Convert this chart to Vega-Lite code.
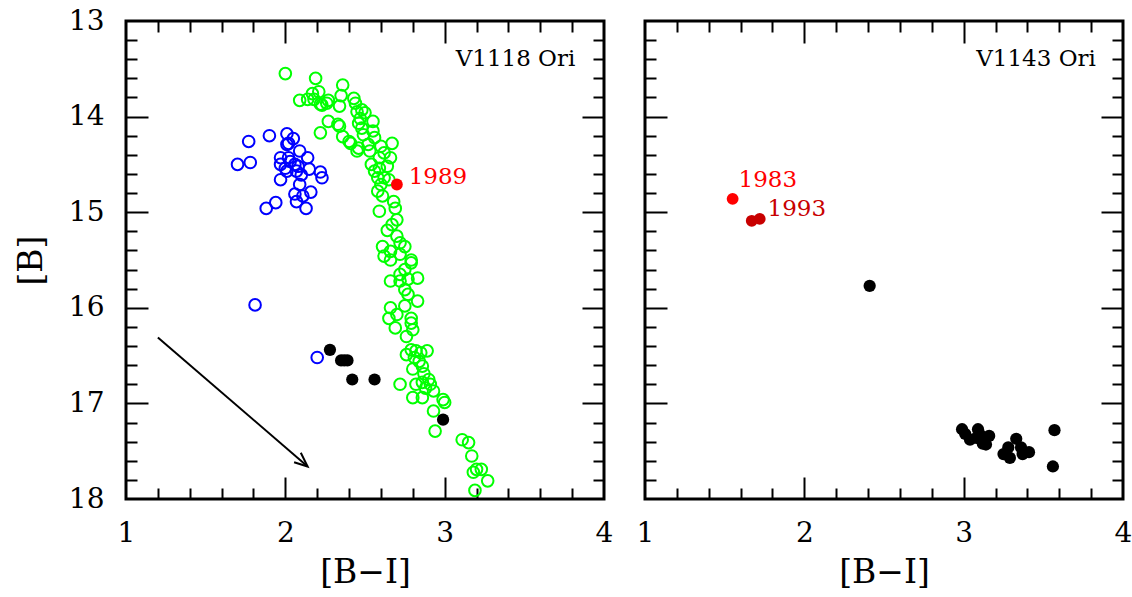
{
  "$schema": "https://vega.github.io/schema/vega-lite/v6.json",
  "background": "white",
  "padding": {"left": 13, "top": 5, "right": 0, "bottom": 0},
  "spacing": 41,
  "bounds": "flush",
  "datasets": {
    "green": [
      {"x":2.00,"y":13.55},{"x":2.19,"y":13.60},{"x":2.36,"y":13.67},{"x":2.17,"y":13.76},{"x":2.21,"y":13.74},
      {"x":2.09,"y":13.83},{"x":2.18,"y":13.82},{"x":2.22,"y":13.87},{"x":2.27,"y":13.83},{"x":2.35,"y":13.78},
      {"x":2.34,"y":13.89},{"x":2.14,"y":13.82},{"x":2.23,"y":13.88},{"x":2.26,"y":13.86},{"x":2.43,"y":13.81},
      {"x":2.44,"y":13.86},{"x":2.45,"y":13.95},{"x":2.48,"y":13.93},{"x":2.50,"y":13.96},{"x":2.47,"y":14.02},
      {"x":2.46,"y":14.07},{"x":2.55,"y":14.05},{"x":2.27,"y":14.05},{"x":2.22,"y":14.17},{"x":2.33,"y":14.08},
      {"x":2.34,"y":14.10},{"x":2.36,"y":14.21},{"x":2.40,"y":14.26},{"x":2.41,"y":14.28},{"x":2.46,"y":14.33},
      {"x":2.45,"y":14.36},{"x":2.48,"y":14.12},{"x":2.49,"y":14.19},{"x":2.55,"y":14.15},{"x":2.56,"y":14.22},
      {"x":2.52,"y":14.29},{"x":2.53,"y":14.36},{"x":2.60,"y":14.31},{"x":2.59,"y":14.43},{"x":2.62,"y":14.38},
      {"x":2.66,"y":14.43},{"x":2.67,"y":14.28},{"x":2.54,"y":14.50},{"x":2.56,"y":14.57},{"x":2.59,"y":14.54},
      {"x":2.64,"y":14.52},{"x":2.62,"y":14.64},{"x":2.65,"y":14.66},{"x":2.58,"y":14.64},{"x":2.60,"y":14.71},
      {"x":2.58,"y":14.78},{"x":2.61,"y":14.83},{"x":2.59,"y":14.99},{"x":2.68,"y":14.89},{"x":2.69,"y":14.96},
      {"x":2.70,"y":15.08},{"x":2.67,"y":15.13},{"x":2.64,"y":15.19},{"x":2.70,"y":15.25},{"x":2.72,"y":15.32},
      {"x":2.61,"y":15.36},{"x":2.66,"y":15.41},{"x":2.75,"y":15.36},{"x":2.62,"y":15.46},{"x":2.79,"y":15.50},
      {"x":2.66,"y":15.50},{"x":2.72,"y":15.44},{"x":2.79,"y":15.53},{"x":2.75,"y":15.60},{"x":2.72,"y":15.65},
      {"x":2.66,"y":15.72},{"x":2.72,"y":15.72},{"x":2.77,"y":15.70},{"x":2.83,"y":15.69},{"x":2.75,"y":15.81},
      {"x":2.77,"y":15.86},{"x":2.83,"y":15.93},{"x":2.66,"y":16.00},{"x":2.65,"y":16.11},{"x":2.70,"y":16.07},
      {"x":2.69,"y":16.21},{"x":2.75,"y":15.98},{"x":2.79,"y":16.11},{"x":2.79,"y":16.16},{"x":2.76,"y":16.30},
      {"x":2.80,"y":16.23},{"x":2.76,"y":16.49},{"x":2.79,"y":16.44},{"x":2.82,"y":16.45},{"x":2.85,"y":16.47},
      {"x":2.89,"y":16.45},{"x":2.81,"y":16.52},{"x":2.84,"y":16.56},{"x":2.80,"y":16.64},{"x":2.86,"y":16.61},
      {"x":2.87,"y":16.69},{"x":2.82,"y":16.80},{"x":2.86,"y":16.78},{"x":2.90,"y":16.75},{"x":2.91,"y":16.80},
      {"x":2.88,"y":16.84},{"x":2.93,"y":16.87},{"x":2.80,"y":16.94},{"x":2.86,"y":16.94},{"x":2.99,"y":16.96},
      {"x":3.00,"y":16.99},{"x":2.93,"y":17.08},{"x":2.94,"y":17.29},{"x":2.72,"y":16.80},{"x":3.11,"y":17.38},
      {"x":3.15,"y":17.41},{"x":3.17,"y":17.55},{"x":3.20,"y":17.69},{"x":3.23,"y":17.69},{"x":3.18,"y":17.72},
      {"x":3.27,"y":17.81},{"x":3.19,"y":17.91}
    ],
    "blue": [
      {"x":1.77,"y":14.26},{"x":1.90,"y":14.20},{"x":1.70,"y":14.50},{"x":1.78,"y":14.48},{"x":2.01,"y":14.18},
      {"x":2.05,"y":14.23},{"x":2.02,"y":14.28},{"x":2.01,"y":14.29},{"x":2.09,"y":14.36},{"x":2.14,"y":14.43},
      {"x":1.97,"y":14.43},{"x":1.97,"y":14.50},{"x":2.02,"y":14.43},{"x":2.03,"y":14.47},{"x":2.00,"y":14.54},
      {"x":2.06,"y":14.50},{"x":2.08,"y":14.52},{"x":2.01,"y":14.57},{"x":2.07,"y":14.57},{"x":1.97,"y":14.66},
      {"x":2.10,"y":14.61},{"x":2.15,"y":14.55},{"x":2.22,"y":14.58},{"x":2.23,"y":14.64},{"x":2.09,"y":14.71},
      {"x":2.06,"y":14.81},{"x":2.11,"y":14.83},{"x":2.07,"y":14.89},{"x":2.16,"y":14.79},{"x":1.88,"y":14.96},
      {"x":1.94,"y":14.90},{"x":2.13,"y":14.96},{"x":1.81,"y":15.97},{"x":2.20,"y":16.52}
    ],
    "blackL": [
      {"x":2.28,"y":16.44},{"x":2.35,"y":16.55},{"x":2.37,"y":16.55},{"x":2.39,"y":16.55},
      {"x":2.42,"y":16.75},{"x":2.56,"y":16.75},{"x":2.99,"y":17.17}
    ],
    "red89": [{"x":2.70,"y":14.71}],
    "blackR": [
      {"x":2.41,"y":15.77},{"x":2.99,"y":17.27},{"x":3.01,"y":17.32},{"x":3.04,"y":17.38},{"x":3.09,"y":17.27},
      {"x":3.10,"y":17.32},{"x":3.13,"y":17.39},{"x":3.16,"y":17.34},{"x":3.14,"y":17.43},{"x":3.08,"y":17.36},
      {"x":3.12,"y":17.42},{"x":3.33,"y":17.37},{"x":3.28,"y":17.46},{"x":3.25,"y":17.53},{"x":3.29,"y":17.57},
      {"x":3.36,"y":17.46},{"x":3.37,"y":17.53},{"x":3.41,"y":17.51},{"x":3.57,"y":17.28},{"x":3.56,"y":17.66}
    ],
    "red83": [{"x":1.55,"y":14.86}],
    "red93": [{"x":1.67,"y":15.09},{"x":1.72,"y":15.07}],
    "arrow": [
      {"seg":"shaft","o":0,"x":1.2,"y":16.31},{"seg":"shaft","o":1,"x":2.14,"y":17.66},
      {"seg":"head","o":0,"x":2.055,"y":17.615},{"seg":"head","o":1,"x":2.14,"y":17.66},{"seg":"head","o":2,"x":2.097,"y":17.516}
    ],
    "lab1989": [{"x":2.774,"y":14.63,"t":"1989"}],
    "labV1118": [{"x":3.82,"y":13.40,"t":"V1118 Ori"}],
    "lab1983": [{"x":1.587,"y":14.66,"t":"1983"}],
    "lab1993": [{"x":1.769,"y":14.97,"t":"1993"}],
    "labV1143": [{"x":3.83,"y":13.40,"t":"V1143 Ori"}]
  },
  "hconcat": [
    {
      "width": 478,
      "height": 478,
      "layer": [
        {
          "data": {"name": "blue"},
          "mark": {"type": "point", "shape": "circle", "filled": false, "color": "#0000ff", "strokeWidth": 2, "size": 135, "opacity": 1},
          "encoding": {
            "x": {"field": "x", "type": "quantitative", "scale": {"domain": [1, 4], "nice": false, "zero": false},
              "axis": {"orient": "bottom", "values": [1, 2, 3, 4], "ticks": false, "labelPadding": 20, "labelFlush": false, "labelOverlap": false, "title": "[B−I]", "titlePadding": 9}},
            "y": {"field": "y", "type": "quantitative", "scale": {"domain": [13, 18], "nice": false, "zero": false, "reverse": true},
              "axis": {"orient": "left", "values": [13, 14, 15, 16, 17, 18], "ticks": false, "labelPadding": 22, "labelFlush": false, "labelOverlap": false, "title": "[B]", "titlePadding": 20}}
          }
        },
        {
          "data": {"name": "green"},
          "mark": {"type": "point", "shape": "circle", "filled": false, "color": "#00ff00", "strokeWidth": 2, "size": 135, "opacity": 1},
          "encoding": {
            "x": {"field": "x", "type": "quantitative", "scale": {"domain": [1, 4], "nice": false, "zero": false},
              "axis": {"orient": "bottom", "values": [2, 3], "labels": false, "tickSize": -22, "title": null}},
            "y": {"field": "y", "type": "quantitative", "scale": {"domain": [13, 18], "nice": false, "zero": false, "reverse": true},
              "axis": {"orient": "left", "values": [14, 15, 16, 17], "labels": false, "tickSize": -22, "title": null}}
          }
        },
        {
          "data": {"name": "blackL"},
          "mark": {"type": "circle", "color": "#000000", "size": 150, "opacity": 1},
          "encoding": {
            "x": {"field": "x", "type": "quantitative", "scale": {"domain": [1, 4], "nice": false, "zero": false},
              "axis": {"orient": "bottom", "values": [1.2, 1.4, 1.6, 1.8, 2.2, 2.4, 2.6, 2.8, 3.2, 3.4, 3.6, 3.8], "labels": false, "tickSize": -11, "title": null}},
            "y": {"field": "y", "type": "quantitative", "scale": {"domain": [13, 18], "nice": false, "zero": false, "reverse": true},
              "axis": {"orient": "left", "values": [13.2, 13.4, 13.6, 13.8, 14.2, 14.4, 14.6, 14.8, 15.2, 15.4, 15.6, 15.8, 16.2, 16.4, 16.6, 16.8, 17.2, 17.4, 17.6, 17.8], "labels": false, "tickSize": -11, "title": null}}
          }
        },
        {
          "data": {"name": "red89"},
          "mark": {"type": "circle", "color": "#ff0000", "size": 140, "opacity": 1},
          "encoding": {
            "x": {"field": "x", "type": "quantitative", "scale": {"domain": [1, 4], "nice": false, "zero": false},
              "axis": {"orient": "top", "values": [2, 3], "labels": false, "tickSize": -22, "title": null}},
            "y": {"field": "y", "type": "quantitative", "scale": {"domain": [13, 18], "nice": false, "zero": false, "reverse": true},
              "axis": {"orient": "right", "values": [14, 15, 16, 17], "labels": false, "tickSize": -22, "title": null}}
          }
        },
        {
          "data": {"name": "lab1989"},
          "mark": {"type": "text", "color": "#ff0000", "font": "DejaVu Serif", "fontSize": 23, "align": "left", "baseline": "middle"},
          "encoding": {
            "x": {"field": "x", "type": "quantitative", "scale": {"domain": [1, 4], "nice": false, "zero": false},
              "axis": {"orient": "top", "values": [1.2, 1.4, 1.6, 1.8, 2.2, 2.4, 2.6, 2.8, 3.2, 3.4, 3.6, 3.8], "labels": false, "tickSize": -11, "title": null}},
            "y": {"field": "y", "type": "quantitative", "scale": {"domain": [13, 18], "nice": false, "zero": false, "reverse": true},
              "axis": {"orient": "right", "values": [13.2, 13.4, 13.6, 13.8, 14.2, 14.4, 14.6, 14.8, 15.2, 15.4, 15.6, 15.8, 16.2, 16.4, 16.6, 16.8, 17.2, 17.4, 17.6, 17.8], "labels": false, "tickSize": -11, "title": null}},
            "text": {"field": "t"}
          }
        },
        {
          "data": {"name": "labV1118"},
          "mark": {"type": "text", "color": "#000000", "font": "DejaVu Serif", "fontSize": 23, "letterSpacing": 1.2, "align": "right", "baseline": "middle"},
          "encoding": {
            "x": {"field": "x", "type": "quantitative", "scale": {"domain": [1, 4], "nice": false, "zero": false}, "axis": null},
            "y": {"field": "y", "type": "quantitative", "scale": {"domain": [13, 18], "nice": false, "zero": false, "reverse": true}, "axis": null},
            "text": {"field": "t"}
          }
        },
        {
          "data": {"name": "arrow"},
          "mark": {"type": "line", "color": "#000000", "strokeWidth": 2},
          "encoding": {
            "x": {"field": "x", "type": "quantitative", "scale": {"domain": [1, 4], "nice": false, "zero": false}, "axis": null},
            "y": {"field": "y", "type": "quantitative", "scale": {"domain": [13, 18], "nice": false, "zero": false, "reverse": true}, "axis": null},
            "detail": {"field": "seg"},
            "order": {"field": "o"}
          }
        }
      ],
      "resolve": {"axis": {"x": "independent", "y": "independent"}}
    },
    {
      "width": 478,
      "height": 478,
      "layer": [
        {
          "data": {"name": "blackR"},
          "mark": {"type": "circle", "color": "#000000", "size": 150, "opacity": 1},
          "encoding": {
            "x": {"field": "x", "type": "quantitative", "scale": {"domain": [1, 4], "nice": false, "zero": false},
              "axis": {"orient": "bottom", "values": [1, 2, 3, 4], "ticks": false, "labelPadding": 20, "labelFlush": false, "labelOverlap": false, "title": "[B−I]", "titlePadding": 9}},
            "y": {"field": "y", "type": "quantitative", "scale": {"domain": [13, 18], "nice": false, "zero": false, "reverse": true},
              "axis": {"orient": "left", "values": [14, 15, 16, 17], "labels": false, "tickSize": -22, "title": null}}
          }
        },
        {
          "data": {"name": "red83"},
          "mark": {"type": "circle", "color": "#ff0000", "size": 140, "opacity": 1},
          "encoding": {
            "x": {"field": "x", "type": "quantitative", "scale": {"domain": [1, 4], "nice": false, "zero": false},
              "axis": {"orient": "bottom", "values": [2, 3], "labels": false, "tickSize": -22, "title": null}},
            "y": {"field": "y", "type": "quantitative", "scale": {"domain": [13, 18], "nice": false, "zero": false, "reverse": true},
              "axis": {"orient": "left", "values": [13.2, 13.4, 13.6, 13.8, 14.2, 14.4, 14.6, 14.8, 15.2, 15.4, 15.6, 15.8, 16.2, 16.4, 16.6, 16.8, 17.2, 17.4, 17.6, 17.8], "labels": false, "tickSize": -11, "title": null}}
          }
        },
        {
          "data": {"name": "red93"},
          "mark": {"type": "circle", "color": "#c80000", "size": 140, "opacity": 1},
          "encoding": {
            "x": {"field": "x", "type": "quantitative", "scale": {"domain": [1, 4], "nice": false, "zero": false},
              "axis": {"orient": "bottom", "values": [1.2, 1.4, 1.6, 1.8, 2.2, 2.4, 2.6, 2.8, 3.2, 3.4, 3.6, 3.8], "labels": false, "tickSize": -11, "title": null}},
            "y": {"field": "y", "type": "quantitative", "scale": {"domain": [13, 18], "nice": false, "zero": false, "reverse": true},
              "axis": {"orient": "right", "values": [14, 15, 16, 17], "labels": false, "tickSize": -22, "title": null}}
          }
        },
        {
          "data": {"name": "lab1983"},
          "mark": {"type": "text", "color": "#ff0000", "font": "DejaVu Serif", "fontSize": 23, "align": "left", "baseline": "middle"},
          "encoding": {
            "x": {"field": "x", "type": "quantitative", "scale": {"domain": [1, 4], "nice": false, "zero": false},
              "axis": {"orient": "top", "values": [2, 3], "labels": false, "tickSize": -22, "title": null}},
            "y": {"field": "y", "type": "quantitative", "scale": {"domain": [13, 18], "nice": false, "zero": false, "reverse": true},
              "axis": {"orient": "right", "values": [13.2, 13.4, 13.6, 13.8, 14.2, 14.4, 14.6, 14.8, 15.2, 15.4, 15.6, 15.8, 16.2, 16.4, 16.6, 16.8, 17.2, 17.4, 17.6, 17.8], "labels": false, "tickSize": -11, "title": null}},
            "text": {"field": "t"}
          }
        },
        {
          "data": {"name": "lab1993"},
          "mark": {"type": "text", "color": "#c80000", "font": "DejaVu Serif", "fontSize": 23, "align": "left", "baseline": "middle"},
          "encoding": {
            "x": {"field": "x", "type": "quantitative", "scale": {"domain": [1, 4], "nice": false, "zero": false},
              "axis": {"orient": "top", "values": [1.2, 1.4, 1.6, 1.8, 2.2, 2.4, 2.6, 2.8, 3.2, 3.4, 3.6, 3.8], "labels": false, "tickSize": -11, "title": null}},
            "y": {"field": "y", "type": "quantitative", "scale": {"domain": [13, 18], "nice": false, "zero": false, "reverse": true}, "axis": null},
            "text": {"field": "t"}
          }
        },
        {
          "data": {"name": "labV1143"},
          "mark": {"type": "text", "color": "#000000", "font": "DejaVu Serif", "fontSize": 23, "letterSpacing": 1.2, "align": "right", "baseline": "middle"},
          "encoding": {
            "x": {"field": "x", "type": "quantitative", "scale": {"domain": [1, 4], "nice": false, "zero": false}, "axis": null},
            "y": {"field": "y", "type": "quantitative", "scale": {"domain": [13, 18], "nice": false, "zero": false, "reverse": true}, "axis": null},
            "text": {"field": "t"}
          }
        }
      ],
      "resolve": {"axis": {"x": "independent", "y": "independent"}}
    }
  ],
  "config": {
    "view": {"stroke": "#000000", "strokeWidth": 3},
    "axis": {
      "domain": false,
      "grid": false,
      "labelFont": "DejaVu Serif",
      "labelFontSize": 28,
      "labelColor": "#000000",
      "tickColor": "#000000",
      "tickWidth": 2,
      "titleFont": "DejaVu Serif",
      "titleFontSize": 33,
      "titleFontWeight": "normal",
      "titleColor": "#000000"
    }
  }
}
